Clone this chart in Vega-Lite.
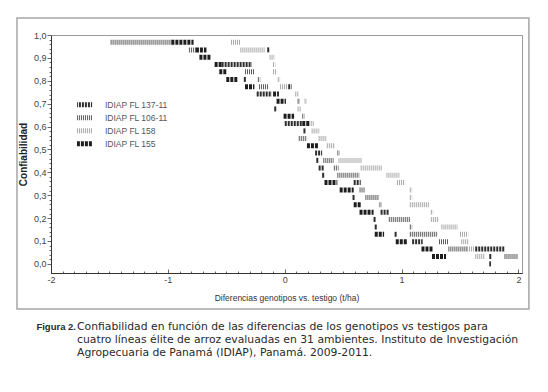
{
  "$schema": "https://vega.github.io/schema/vega-lite/v6.json",
  "background": "white",
  "padding": {"left": 15, "top": 16, "right": 0, "bottom": 0},
  "spacing": 54,
  "bounds": "flush",
  "config": {
    "view": {"stroke": null},
    "font": "Liberation Sans",
    "legend": {
      "orient": "none",
      "legendX": 26,
      "legendY": 63.5,
      "symbolType": "M-3.2,0H3.2",
      "symbolSize": 36,
      "symbolStrokeWidth": 5,
      "labelFont": "Liberation Sans",
      "labelFontSize": 8.5,
      "labelColor": "#555555",
      "labelOffset": 17,
      "clipHeight": 12.3,
      "rowPadding": 0
    }
  },
  "vconcat": [
    {
      "width": 471,
      "height": 238,
      "view": {"stroke": "#9a9a9a", "strokeWidth": 1},
      "resolve": {"axis": {"x": "independent", "y": "independent"}},
      "layer": [
        {
          "data": {"values": [{"f": 1}]},
          "mark": {"type": "rect", "filled": false, "stroke": "#a6a6a6", "strokeWidth": 1.5},
          "encoding": {
            "x": {"datum": -2.291, "type": "quantitative", "scale": {"domain": [-2, 2.03], "nice": false, "zero": false}, "axis": null},
            "x2": {"datum": 2.089},
            "y": {"datum": 1.074, "type": "quantitative", "scale": {"domain": [-0.04, 1.0], "nice": false, "zero": false}, "axis": null},
            "y2": {"datum": -0.197}
          }
        },
        {
          "data": {"values": [
            {"s": "IDIAP FL 106-11", "c": 0.968, "x1": -1.49, "x2": -0.97},
            {"s": "IDIAP FL 155", "c": 0.968, "x1": -0.97, "x2": -0.78},
            {"s": "IDIAP FL 158", "c": 0.968, "x1": -0.46, "x2": -0.38},
            {"s": "IDIAP FL 106-11", "c": 0.935, "x1": -0.82, "x2": -0.76},
            {"s": "IDIAP FL 155", "c": 0.935, "x1": -0.76, "x2": -0.67},
            {"s": "IDIAP FL 158", "c": 0.935, "x1": -0.38, "x2": -0.17},
            {"s": "IDIAP FL 137-11", "c": 0.935, "x1": -0.15, "x2": -0.13},
            {"s": "IDIAP FL 155", "c": 0.903, "x1": -0.73, "x2": -0.63},
            {"s": "IDIAP FL 158", "c": 0.903, "x1": -0.13, "x2": -0.09},
            {"s": "IDIAP FL 155", "c": 0.871, "x1": -0.60, "x2": -0.54},
            {"s": "IDIAP FL 137-11", "c": 0.871, "x1": -0.54, "x2": -0.28},
            {"s": "IDIAP FL 158", "c": 0.871, "x1": -0.10, "x2": -0.08},
            {"s": "IDIAP FL 155", "c": 0.839, "x1": -0.56, "x2": -0.50},
            {"s": "IDIAP FL 106-11", "c": 0.839, "x1": -0.34, "x2": -0.26},
            {"s": "IDIAP FL 158", "c": 0.839, "x1": -0.10, "x2": -0.07},
            {"s": "IDIAP FL 155", "c": 0.806, "x1": -0.50, "x2": -0.40},
            {"s": "IDIAP FL 137-11", "c": 0.806, "x1": -0.35, "x2": -0.33},
            {"s": "IDIAP FL 106-11", "c": 0.806, "x1": -0.23, "x2": -0.21},
            {"s": "IDIAP FL 158", "c": 0.806, "x1": -0.06, "x2": -0.04},
            {"s": "IDIAP FL 155", "c": 0.774, "x1": -0.34, "x2": -0.26},
            {"s": "IDIAP FL 106-11", "c": 0.774, "x1": -0.22, "x2": -0.14},
            {"s": "IDIAP FL 158", "c": 0.774, "x1": -0.04, "x2": 0.03},
            {"s": "IDIAP FL 137-11", "c": 0.774, "x1": 0.03, "x2": 0.06},
            {"s": "IDIAP FL 137-11", "c": 0.742, "x1": -0.24, "x2": -0.11},
            {"s": "IDIAP FL 155", "c": 0.742, "x1": -0.10, "x2": -0.05},
            {"s": "IDIAP FL 158", "c": 0.742, "x1": 0.09, "x2": 0.12},
            {"s": "IDIAP FL 155", "c": 0.710, "x1": -0.07, "x2": 0.01},
            {"s": "IDIAP FL 106-11", "c": 0.710, "x1": 0.11, "x2": 0.13},
            {"s": "IDIAP FL 158", "c": 0.710, "x1": 0.17, "x2": 0.19},
            {"s": "IDIAP FL 137-11", "c": 0.677, "x1": -0.09, "x2": -0.07},
            {"s": "IDIAP FL 158", "c": 0.677, "x1": 0.11, "x2": 0.14},
            {"s": "IDIAP FL 155", "c": 0.645, "x1": -0.01, "x2": 0.08},
            {"s": "IDIAP FL 106-11", "c": 0.645, "x1": 0.15, "x2": 0.17},
            {"s": "IDIAP FL 137-11", "c": 0.613, "x1": 0.00, "x2": 0.15},
            {"s": "IDIAP FL 155", "c": 0.613, "x1": 0.15, "x2": 0.21},
            {"s": "IDIAP FL 158", "c": 0.613, "x1": 0.21, "x2": 0.25},
            {"s": "IDIAP FL 137-11", "c": 0.581, "x1": 0.16, "x2": 0.18},
            {"s": "IDIAP FL 158", "c": 0.581, "x1": 0.23, "x2": 0.30},
            {"s": "IDIAP FL 106-11", "c": 0.548, "x1": 0.12, "x2": 0.19},
            {"s": "IDIAP FL 158", "c": 0.548, "x1": 0.29, "x2": 0.36},
            {"s": "IDIAP FL 155", "c": 0.516, "x1": 0.19, "x2": 0.29},
            {"s": "IDIAP FL 158", "c": 0.516, "x1": 0.36, "x2": 0.43},
            {"s": "IDIAP FL 137-11", "c": 0.484, "x1": 0.26, "x2": 0.32},
            {"s": "IDIAP FL 106-11", "c": 0.484, "x1": 0.45, "x2": 0.47},
            {"s": "IDIAP FL 137-11", "c": 0.452, "x1": 0.27, "x2": 0.29},
            {"s": "IDIAP FL 106-11", "c": 0.452, "x1": 0.33, "x2": 0.42},
            {"s": "IDIAP FL 158", "c": 0.452, "x1": 0.46, "x2": 0.66},
            {"s": "IDIAP FL 137-11", "c": 0.419, "x1": 0.29, "x2": 0.34},
            {"s": "IDIAP FL 106-11", "c": 0.419, "x1": 0.42, "x2": 0.46},
            {"s": "IDIAP FL 158", "c": 0.419, "x1": 0.65, "x2": 0.83},
            {"s": "IDIAP FL 137-11", "c": 0.387, "x1": 0.32, "x2": 0.34},
            {"s": "IDIAP FL 106-11", "c": 0.387, "x1": 0.45, "x2": 0.64},
            {"s": "IDIAP FL 158", "c": 0.387, "x1": 0.87, "x2": 0.98},
            {"s": "IDIAP FL 155", "c": 0.355, "x1": 0.34, "x2": 0.45},
            {"s": "IDIAP FL 137-11", "c": 0.355, "x1": 0.59, "x2": 0.65},
            {"s": "IDIAP FL 158", "c": 0.355, "x1": 0.96, "x2": 1.03},
            {"s": "IDIAP FL 155", "c": 0.323, "x1": 0.47, "x2": 0.59},
            {"s": "IDIAP FL 106-11", "c": 0.323, "x1": 0.64, "x2": 0.69},
            {"s": "IDIAP FL 158", "c": 0.323, "x1": 1.07, "x2": 1.09},
            {"s": "IDIAP FL 137-11", "c": 0.290, "x1": 0.58, "x2": 0.60},
            {"s": "IDIAP FL 106-11", "c": 0.290, "x1": 0.69, "x2": 0.81},
            {"s": "IDIAP FL 158", "c": 0.290, "x1": 1.07, "x2": 1.09},
            {"s": "IDIAP FL 155", "c": 0.258, "x1": 0.59, "x2": 0.65},
            {"s": "IDIAP FL 106-11", "c": 0.258, "x1": 0.81, "x2": 0.83},
            {"s": "IDIAP FL 158", "c": 0.258, "x1": 1.07, "x2": 1.24},
            {"s": "IDIAP FL 155", "c": 0.226, "x1": 0.64, "x2": 0.76},
            {"s": "IDIAP FL 137-11", "c": 0.226, "x1": 0.82, "x2": 0.89},
            {"s": "IDIAP FL 158", "c": 0.226, "x1": 1.25, "x2": 1.27},
            {"s": "IDIAP FL 137-11", "c": 0.194, "x1": 0.76, "x2": 0.78},
            {"s": "IDIAP FL 106-11", "c": 0.194, "x1": 0.89, "x2": 1.07},
            {"s": "IDIAP FL 158", "c": 0.194, "x1": 1.25, "x2": 1.32},
            {"s": "IDIAP FL 137-11", "c": 0.161, "x1": 0.77, "x2": 0.79},
            {"s": "IDIAP FL 106-11", "c": 0.161, "x1": 1.07, "x2": 1.09},
            {"s": "IDIAP FL 158", "c": 0.161, "x1": 1.34, "x2": 1.48},
            {"s": "IDIAP FL 155", "c": 0.129, "x1": 0.77, "x2": 0.85},
            {"s": "IDIAP FL 137-11", "c": 0.129, "x1": 0.94, "x2": 0.96},
            {"s": "IDIAP FL 106-11", "c": 0.129, "x1": 1.07, "x2": 1.31},
            {"s": "IDIAP FL 158", "c": 0.129, "x1": 1.50, "x2": 1.57},
            {"s": "IDIAP FL 155", "c": 0.097, "x1": 0.95, "x2": 1.05},
            {"s": "IDIAP FL 137-11", "c": 0.097, "x1": 1.09, "x2": 1.18},
            {"s": "IDIAP FL 106-11", "c": 0.097, "x1": 1.32, "x2": 1.40},
            {"s": "IDIAP FL 158", "c": 0.097, "x1": 1.51, "x2": 1.57},
            {"s": "IDIAP FL 155", "c": 0.065, "x1": 1.17, "x2": 1.27},
            {"s": "IDIAP FL 106-11", "c": 0.065, "x1": 1.40, "x2": 1.56},
            {"s": "IDIAP FL 158", "c": 0.065, "x1": 1.56, "x2": 1.63},
            {"s": "IDIAP FL 137-11", "c": 0.065, "x1": 1.63, "x2": 1.88},
            {"s": "IDIAP FL 155", "c": 0.032, "x1": 1.26, "x2": 1.38},
            {"s": "IDIAP FL 158", "c": 0.032, "x1": 1.63, "x2": 1.71},
            {"s": "IDIAP FL 137-11", "c": 0.032, "x1": 1.75, "x2": 1.77},
            {"s": "IDIAP FL 106-11", "c": 0.032, "x1": 1.88, "x2": 2.00},
            {"s": "IDIAP FL 137-11", "c": 0.0, "x1": 1.75, "x2": 1.765}
          ]},
          "mark": {"type": "rule", "strokeWidth": 5, "strokeCap": "butt"},
          "encoding": {
            "x": {
              "field": "x1", "type": "quantitative",
              "scale": {"domain": [-2, 2.03], "nice": false, "zero": false},
              "axis": {
                "values": [-2, -1.9, -1.8, -1.7, -1.6, -1.5, -1.4, -1.3, -1.2, -1.1, -1, -0.9, -0.8, -0.7, -0.6, -0.5, -0.4, -0.3, -0.2, -0.1, 0, 0.1, 0.2, 0.3, 0.4, 0.5, 0.6, 0.7, 0.8, 0.9, 1, 1.1, 1.2, 1.3, 1.4, 1.5, 1.6, 1.7, 1.8, 1.9, 2],
                "title": "Diferencias genotipos vs. testigo (t/ha)",
                "labelExpr": "abs(datum.value - round(datum.value)) < 0.001 ? '' + round(datum.value) : ''",
                "tickSize": {"condition": {"test": "abs(datum.value - round(datum.value)) < 0.001", "value": -4}, "value": -2},
                "tickColor": "#666666",
                "domainColor": "#333333",
                "labelFontSize": 9,
                "labelColor": "#444444",
                "labelPadding": 6,
                "labelFlush": false,
                "labelOverlap": false,
                "titleFontSize": 8.5,
                "titleFontWeight": "normal",
                "titleColor": "#333333",
                "titlePadding": 7,
                "grid": false
              }
            },
            "x2": {"field": "x2"},
            "y": {
              "field": "c", "type": "quantitative",
              "scale": {"domain": [-0.04, 1.0], "nice": false, "zero": false},
              "axis": {
                "values": [0, 0.02, 0.04, 0.06, 0.08, 0.1, 0.12, 0.14, 0.16, 0.18, 0.2, 0.22, 0.24, 0.26, 0.28, 0.3, 0.32, 0.34, 0.36, 0.38, 0.4, 0.42, 0.44, 0.46, 0.48, 0.5, 0.52, 0.54, 0.56, 0.58, 0.6, 0.62, 0.64, 0.66, 0.68, 0.7, 0.72, 0.74, 0.76, 0.78, 0.8, 0.82, 0.84, 0.86, 0.88, 0.9, 0.92, 0.94, 0.96, 0.98, 1],
                "title": "Confiabilidad",
                "labelExpr": "abs(datum.value * 10 - round(datum.value * 10)) < 0.001 ? replace(format(datum.value, '.1f'), '.', ',') : ''",
                "tickSize": {"condition": {"test": "abs(datum.value * 10 - round(datum.value * 10)) < 0.001", "value": 4}, "value": 2},
                "tickColor": "#666666",
                "domainColor": "#333333",
                "labelFontSize": 9,
                "labelColor": "#444444",
                "labelPadding": 1,
                "labelOverlap": false,
                "labelFlush": false,
                "titleFontSize": 10,
                "titleFontWeight": "bold",
                "titleColor": "#222222",
                "titlePadding": 5,
                "grid": false
              }
            },
            "color": {
              "field": "s", "type": "nominal",
              "scale": {"domain": ["IDIAP FL 137-11", "IDIAP FL 106-11", "IDIAP FL 158", "IDIAP FL 155"], "range": ["#2e2e2e", "#5a5a5a", "#a8a8a8", "#1e1e1e"]},
              "legend": {"title": null}
            },
            "strokeDash": {
              "field": "s", "type": "nominal",
              "scale": {"domain": ["IDIAP FL 137-11", "IDIAP FL 106-11", "IDIAP FL 158", "IDIAP FL 155"], "range": [[2, 1], [1, 1], [1, 1], [3, 1]]},
              "legend": {"title": null}
            }
          }
        }
      ]
    },
    {
      "width": 471,
      "height": 26,
      "data": {"values": [
        {"r": 0, "t": "Confiabilidad en función de las diferencias de los genotipos vs testigos para"},
        {"r": 1, "t": "cuatro líneas élite de arroz evaluadas en 31 ambientes. Instituto de Investigación"},
        {"r": 2, "t": "Agropecuaria de Panamá (IDIAP), Panamá. 2009-2011."}
      ]},
      "layer": [
        {
          "mark": {"type": "text", "align": "left", "baseline": "middle", "font": "DejaVu Sans", "fontSize": 10.8, "color": "#2a2a2a"},
          "encoding": {
            "x": {"datum": 0.0552, "type": "quantitative", "scale": {"domain": [0, 1], "nice": false, "zero": false}, "axis": null},
            "y": {"field": "r", "type": "quantitative", "scale": {"domain": [0, 2], "reverse": true, "nice": false}, "axis": null},
            "text": {"field": "t"}
          }
        },
        {
          "data": {"values": [{"r": 0, "t": "Figura 2."}]},
          "mark": {"type": "text", "align": "left", "baseline": "middle", "font": "Liberation Sans", "fontSize": 9.5, "fontWeight": "bold", "color": "#2a2a2a"},
          "encoding": {
            "x": {"datum": -0.031, "type": "quantitative", "scale": {"domain": [0, 1], "nice": false, "zero": false}, "axis": null},
            "y": {"field": "r", "type": "quantitative", "scale": {"domain": [0, 2], "reverse": true, "nice": false}, "axis": null},
            "text": {"field": "t"}
          }
        }
      ]
    }
  ]
}
